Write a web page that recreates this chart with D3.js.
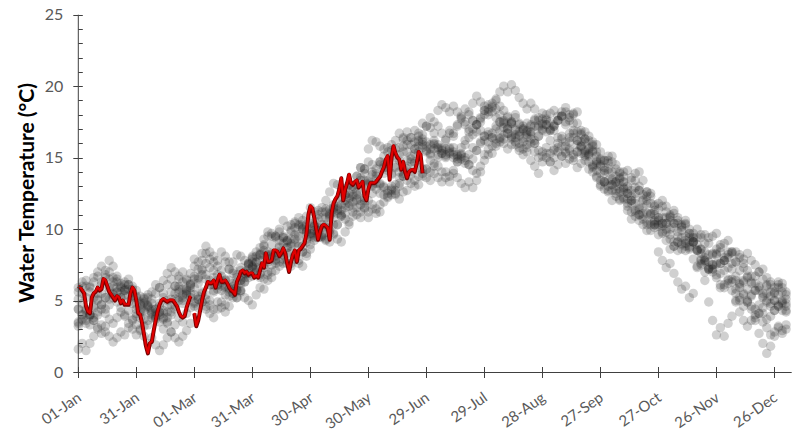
<!DOCTYPE html>
<html>
<head>
<meta charset="utf-8">
<script src="https://cdn.jsdelivr.net/npm/d3@7"></script>
<style>
	body { margin: 0; background: #fff; }
	svg { display: block; font-family: Lato, "Open Sans", sans-serif; }
</style>
</head>
<body>
<svg id="chart"></svg>
<script>
// x axis: day of year, tick every 30 days
var tickDays = [0, 30, 60, 90, 120, 150, 180, 210, 240, 270, 300, 330, 360]
var tickLabels = ["01-Jan", "31-Jan", "01-Mar", "31-Mar", "30-Apr", "30-May", "29-Jun",
	"29-Jul", "28-Aug", "27-Sep", "27-Oct", "26-Nov", "26-Dec"]
var yTicks = [0, 5, 10, 15, 20, 25]

// past years, one reading every second day (day 0, 2, 4 ... 366)
var year1 = [5.9,6.3,6.0,5.6,5.2, 5.5,6.1,6.6,7.0,6.6, 6.3,5.9,5.4,4.9,5.2, 4.7,4.3,4.8,5.2,5.6, 6.1,5.9,6.4,6.9,7.3, 7.0,6.7,7.0,6.5,6.1,
	4.9,5.3,4.9,4.6,5.0, 5.6,6.1,6.7,6.5,7.2, 7.7,8.2,8.1,7.8,7.6, 7.3,7.1,6.8,7.3,6.8, 6.6,7.1,7.7,7.6,8.3, 9.0,9.6,9.5,10.3,10.9,
	11.5,11.2,11.0,11.5,11.2, 11.0,10.8,11.3,10.9,10.7, 10.5,11.2,11.0,10.8,11.5, 13.1,13.8,13.7,14.5,15.1, 15.7,15.5,16.2,16.7,16.4, 16.2,15.9,15.6,16.2,15.7,
	15.4,15.2,15.6,15.2,15.7, 16.3,16.9,16.7,17.3,17.9, 18.4,18.2,18.8,19.3,18.9, 18.6,18.2,18.8,18.4,18.0, 17.6,17.2,17.5,16.9,16.5, 17.0,17.4,16.8,17.2,17.6,
	18.1,17.7,18.1,18.3,17.9, 18.2,18.5,18.0,17.4,16.8, 15.3,15.5,14.7,14.0,14.1, 13.4,12.8,13.0,13.1,13.3, 13.6,13.7,13.0,13.4,13.4, 12.7,12.0,12.0,11.1,10.3,
	9.6,9.8,9.2,8.6,8.8, 9.1,9.4,9.0,9.4,9.7, 10.0,9.4,9.6,9.0,8.2, 7.6,6.9,7.1,6.5,5.7, 5.0,5.2,4.6,4.9,5.4, 5.7,6.0,5.5,6.0,6.3, 5.9,6.3,5.9,5.4]
var year2 = [4.4,4.8,4.3,4.0,3.6, 3.1,3.3,2.8,2.5,2.1, 2.4,2.8,2.6,3.1,3.6, 4.1,3.8,4.3,4.7,4.4, 3.9,3.5,3.0,3.4,2.8, 2.4,2.1,2.5,2.9,3.4,
	4.6,5.1,5.6,5.4,6.1, 6.6,6.4,6.0,6.4,5.9, 5.5,5.2,5.7,5.2,5.0, 4.7,5.4,5.9,5.8,6.4, 7.0,7.6,7.4,8.2,8.7, 9.3,9.0,9.6,10.2,9.9,
	9.7,9.4,9.9,9.5,9.3, 9.1,9.6,9.3,9.1,9.8, 10.3,10.9,11.5,11.2,12.0, 13.4,14.0,13.9,14.7,14.5, 14.3,13.9,14.4,14.0,13.7, 13.4,13.8,13.4,13.1,13.7,
	14.2,14.8,14.4,15.0,15.6, 16.2,16.7,16.5,17.2,17.7, 17.3,17.0,17.6,17.3,16.9, 16.5,16.8,16.4,16.0,16.4, 16.0,15.6,15.9,16.4,16.8, 17.2,16.8,17.2,17.7,17.2,
	17.7,18.0,17.5,16.9,16.4, 15.8,15.3,15.5,14.8,14.3, 14.6,14.8,14.2,14.5,14.7, 14.9,14.3,14.6,14.7,14.2, 13.5,12.8,12.8,12.0,11.3, 10.6,10.7,9.9,9.9,10.1,
	10.2,10.4,9.8,10.0,10.4, 10.6,10.2,10.6,10.0,9.4, 8.9,8.3,8.4,7.7,7.0, 6.8,6.1,6.1,6.4,6.5, 4.9,4.2,3.6,3.2,3.6, 3.8,4.1,4.5,5.0,4.6, 5.0,5.4,4.8,4.3]
var year3 = [3.4,3.7,4.2,4.0,4.6, 5.1,5.5,5.2,5.9,6.3, 6.7,6.2,5.8,6.1,5.6, 5.2,4.8,5.1,4.5,4.1, 3.7,4.2,3.8,3.5,4.0, 4.4,5.0,4.8,5.4,5.9,
	7.4,7.2,7.8,8.3,7.9, 7.7,7.4,7.1,7.7,7.2, 6.9,6.6,7.1,6.6,7.2, 7.7,8.4,8.2,8.9,9.5, 9.5,9.4,10.0,10.6,10.2, 10.3,10.1,10.8,10.6,10.3,
	10.4,10.2,10.7,10.3,10.1, 10.8,11.4,11.1,11.7,12.4, 13.1,13.0,13.7,14.3,14.2, 15.6,16.2,16.1,15.8,15.6, 15.4,15.9,15.6,15.2,15.8, 15.4,15.1,15.6,16.1,16.6,
	17.2,17.8,17.5,18.3,18.7, 18.5,18.2,18.6,18.2,17.8, 17.5,18.0,17.6,17.3,17.7, 18.3,18.7,18.5,19.1,19.6, 20.0,19.6,20.1,19.7,19.2, 18.8,18.4,18.8,18.4,17.8,
	17.4,17.6,17.0,17.2,17.6, 17.9,18.2,17.6,18.0,18.2, 16.6,16.8,16.2,15.5,14.8, 14.4,14.8,15.1,15.1,14.5, 14.0,13.3,12.5,11.8,11.8, 11.0,10.3,10.5,10.5,10.6,
	10.8,10.4,10.8,11.0,11.3, 10.8,10.3,10.4,9.7,9.1, 8.5,8.6,7.8,7.2,7.2, 7.5,7.6,7.8,7.3,7.6, 7.7,8.0,7.6,7.1,6.7, 6.2,5.7,5.2,5.5,4.8, 4.3,4.6,5.0,4.6]
var year4 = [5.6,6.0,6.4,6.0,6.6, 7.0,7.4,7.1,7.8,7.4, 6.5,6.0,6.3,5.8,5.3, 3.9,4.2,3.7,3.3,3.8, 4.2,4.6,4.1,4.6,5.1, 5.5,6.0,5.8,6.4,6.9,
	6.5,6.2,6.8,6.5,6.1, 5.7,6.1,5.7,5.4,5.8, 5.5,5.2,5.7,6.3,6.9, 7.4,7.2,7.8,8.5,8.2, 8.9,9.5,9.2,9.0,8.7, 8.4,8.2,8.8,8.4,8.3,
	8.9,9.5,9.4,10.1,10.8, 11.4,11.2,11.9,12.5,12.4, 12.1,11.9,12.4,12.0,11.8, 10.8,11.4,11.1,11.7,12.4, 12.3,12.8,12.5,13.0,13.7, 14.2,14.0,14.6,14.3,13.9,
	13.6,13.4,13.9,13.6,13.3, 14.0,13.7,14.1,14.7,15.2, 15.0,14.5,14.1,13.9,14.4, 14.8,15.2,15.8,16.3,16.1, 16.6,17.0,16.5,16.1,15.7, 15.2,15.4,14.8,14.4,13.9,
	14.7,15.0,14.7,15.0,15.4, 16.5,16.1,16.4,16.7,16.2, 16.7,16.1,15.3,15.4,14.5, 13.9,13.3,13.4,13.5,13.7, 13.9,14.0,14.1,13.6,13.9, 14.0,13.4,12.6,12.5,11.6,
	10.8,10.2,10.4,9.6,9.1, 8.5,8.9,9.2,8.7,9.1, 9.4,9.6,9.0,9.4,9.5, 9.7,8.9,9.0,9.2,8.4, 7.7,7.1,7.3,6.6,6.2, 5.7,5.9,5.3,4.9,5.3, 5.5,5.9,6.2,5.6]
var year5 = [1.6,2.0,1.5,2.0,2.5, 3.0,2.7,3.2,3.7,3.4, 3.8,4.2,3.9,3.4,3.0, 2.6,3.0,2.5,2.0,2.4, 1.9,1.5,1.9,2.4,2.8, 3.3,3.8,3.5,4.1,4.5,
	5.4,5.1,5.5,5.1,4.7, 4.4,4.9,4.5,4.2,4.6, 5.2,5.7,5.6,6.3,6.9, 7.9,7.7,8.3,8.1,7.7, 8.0,7.8,8.4,8.2,7.8, 7.6,8.1,7.8,8.4,9.1,
	9.7,10.3,10.1,10.8,11.4, 11.1,11.7,11.6,11.3,11.1, 11.6,12.4,13.1,13.6,13.4, 13.3,13.1,12.8,12.5,13.0, 12.7,12.4,13.1,13.6,14.2, 14.8,14.7,15.3,15.8,16.3,
	16.1,15.9,16.2,15.9,15.5, 15.2,15.6,15.2,14.9,15.3, 15.9,16.4,17.0,16.8,17.5, 18.0,18.4,18.2,17.8,17.5, 17.1,16.7,16.3,16.6,16.0, 15.6,15.9,16.3,16.0,16.5,
	17.0,17.3,16.9,17.3,17.6, 17.9,17.3,16.7,16.9,16.2, 15.7,15.1,15.1,14.3,13.6, 13.0,13.3,12.7,12.0,12.3, 12.0,12.2,11.6,12.0,12.1, 11.5,10.9,11.1,11.1,10.3,
	8.4,7.8,7.3,7.6,6.9, 6.3,5.8,6.0,5.2,5.5, 7.3,7.6,7.0,7.3,7.5, 8.2,7.6,7.8,8.0,7.2, 5.5,5.0,5.4,4.9,4.4, 3.6,2.7,2.0,1.3,1.8, 2.5,3.1,2.7,3.0]
var year6 = [4.4,4.0,4.4,3.9,3.6, 4.0,4.4,4.1,4.7,5.2, 5.6,5.2,5.7,6.1,5.8, 5.3,4.9,5.2,4.6,4.2, 3.8,4.2,3.7,4.2,4.7, 5.1,5.6,5.2,5.6,6.2,
	6.7,6.5,7.1,6.8,6.4, 6.1,5.8,6.3,5.9,5.6, 6.2,5.9,6.4,7.0,7.6, 7.4,7.0,6.6,6.5,7.0, 7.5,8.1,8.7,9.4,9.2, 9.9,10.5,10.2,10.0,9.8,
	9.5,9.9,9.6,9.4,9.2, 9.7,10.3,10.3,11.0,11.7, 13.1,13.0,13.7,14.3,14.2, 14.7,14.5,14.2,14.7,14.3, 14.1,13.8,14.3,14.8,15.4, 15.9,16.4,16.9,16.7,17.4,
	17.2,17.1,16.7,17.2,16.7, 15.6,15.3,15.7,15.2,14.9, 14.6,15.2,15.7,15.5,16.1, 16.2,16.6,16.4,17.0,17.5, 17.5,17.0,17.4,17.8,17.3, 16.9,16.4,16.6,16.0,15.5,
	15.1,15.3,14.7,14.1,14.5, 15.1,15.4,15.6,15.0,15.4, 16.1,16.3,15.7,16.1,15.4, 14.8,14.1,14.2,13.4,12.7, 12.1,12.1,11.3,10.7,10.9, 11.0,11.1,10.3,10.3,10.5,
	10.6,10.8,10.4,10.8,11.1, 10.4,9.9,10.3,9.7,9.1, 8.5,8.6,7.8,7.2,7.2, 6.6,5.9,5.9,6.2,6.3, 6.4,5.9,6.3,6.7,6.3, 6.7,7.0,6.5,6.1,5.6, 5.0,4.6,4.9,4.2]
var year7 = [5.1,5.5,5.2,5.9,6.3, 6.7,6.3,6.8,6.5,6.0, 5.6,5.2,5.7,5.3,4.8, 4.4,4.7,4.2,4.6,5.1, 5.5,5.9,5.5,6.1,6.5, 6.0,6.5,6.3,5.8,5.5,
	5.9,6.6,7.2,7.6,7.3, 7.1,6.8,6.4,6.0,6.4, 6.0,5.7,6.4,6.9,7.5, 8.1,8.1,8.7,9.3,9.8, 9.7,9.5,9.8,9.5,9.1, 8.8,9.3,9.0,8.8,9.3,
	10.0,10.6,11.3,11.2,12.0, 12.6,13.2,13.1,12.9,12.7, 12.5,12.3,12.1,12.6,12.2, 12.0,12.5,13.2,13.1,13.9, 14.6,15.1,15.0,15.7,16.3, 16.8,16.4,16.1,16.5,16.1,
	15.8,15.6,16.0,15.6,15.3, 15.1,15.7,15.4,15.1,15.7, 16.2,16.8,16.6,17.3,17.8, 18.3,18.0,18.6,19.0,18.6, 18.3,17.9,17.5,18.0,17.4, 17.0,16.6,16.8,16.2,16.5,
	16.9,17.3,16.9,17.2,17.6, 17.9,17.5,17.8,18.1,17.4, 16.9,16.3,16.5,15.9,15.1, 14.5,13.9,14.0,13.1,12.5, 12.8,12.9,12.1,12.3,12.5, 12.7,12.1,12.3,12.3,11.7,
	11.8,12.0,11.6,10.9,10.4, 9.8,10.1,9.5,8.8,9.1, 8.5,7.9,8.0,8.2,8.3, 8.6,8.7,8.0,8.4,8.4, 6.7,6.2,6.4,5.8,5.3, 4.4,4.7,4.1,3.7,3.9, 4.3,4.7,4.3,4.8]
var year8 = [3.2,3.6,3.4,4.0,4.5, 5.0,4.7,5.2,5.7,5.4, 4.9,4.5,4.0,4.3,3.7, 3.3,2.9,3.2,3.6,4.0, 4.4,4.8,5.2,5.0,5.6, 6.0,5.8,5.4,5.7,5.2,
	4.8,4.5,4.9,4.4,4.1, 3.8,4.4,4.9,4.7,5.3, 5.8,6.3,6.2,6.9,7.5, 8.0,7.7,8.2,8.8,8.4, 8.2,7.9,8.3,7.9,7.6, 7.4,7.9,7.6,7.4,8.1,
	8.6,9.2,9.8,9.5,10.3, 10.9,11.5,11.4,12.2,12.0, 11.8,11.5,12.0,11.7,11.4, 11.2,11.7,11.4,11.2,11.9, 12.5,13.0,12.7,13.2,13.9, 14.4,14.9,14.7,15.4,15.9,
	15.5,15.3,15.9,15.7,15.3, 15.0,15.4,15.0,14.7,15.1, 14.8,14.5,14.9,15.5,16.0, 16.5,16.1,16.7,17.2,16.9, 17.4,17.8,17.4,17.0,16.6, 16.1,15.7,16.0,15.4,15.0,
	15.4,15.7,15.3,15.6,16.0, 16.3,15.8,16.1,16.4,15.9, 15.8,15.2,15.2,14.4,13.7, 13.1,13.3,12.6,12.7,13.0, 13.2,13.3,12.5,12.7,12.9, 13.0,12.4,12.6,11.8,11.0,
	10.3,9.7,10.0,9.3,8.8, 9.1,8.6,8.8,9.1,9.4, 8.6,7.8,6.4,4.9,3.6, 2.6,3.1,2.5,3.4,3.9, 5.8,6.1,5.5,5.0,4.6, 4.0,4.1,3.5,3.1,2.6, 2.8,3.2,2.9,3.3]
var year9 = [3.5,4.0,3.6,3.3,3.8, 4.2,4.7,4.4,5.1,5.5, 5.9,5.6,6.1,6.5,6.0, 5.7,5.3,4.9,5.4,4.8, 4.4,4.0,4.3,3.8,4.2, 4.6,5.2,5.0,5.5,6.1,
	7.9,7.7,8.3,8.8,8.4, 8.1,7.8,8.4,8.1,7.7, 7.1,6.8,7.3,6.8,6.6, 6.7,7.3,6.9,7.5,8.1, 8.3,8.2,8.8,9.4,9.2, 9.8,10.4,10.3,10.0,9.8,
	9.6,10.2,9.9,9.6,10.2, 9.9,9.7,10.3,10.9,11.5, 12.2,12.8,12.6,13.4,13.9, 13.2,13.0,13.5,13.2,12.9, 12.2,12.7,12.4,12.1,12.6, 12.7,13.2,13.0,13.7,14.2,
	14.2,14.0,14.6,14.4,14.0, 13.6,13.3,13.9,13.6,13.2, 12.9,13.3,12.9,13.4,14.0, 15.2,15.6,15.3,15.8,16.3, 16.3,16.7,16.4,15.9,15.5, 16.3,16.9,17.3,17.6,17.1,
	17.3,16.8,16.2,15.5,15.7, 15.1,14.6,14.9,15.2,15.4, 15.8,15.4,15.6,15.8,15.9, 15.4,14.8,14.8,14.0,13.3, 12.6,12.6,11.8,11.2,11.2, 11.4,11.5,11.7,11.0,11.3,
	11.4,11.6,11.2,10.6,10.1, 9.5,9.0,8.5,8.6,7.9, 7.4,7.5,7.7,7.2,7.5, 8.3,8.4,7.8,8.2,8.3, 8.4,8.2,7.9,8.3,7.8, 7.5,7.0,7.2,6.6,6.1, 5.6,6.1,5.6,5.1]
var pastYears = [year1, year2, year3, year4, year5, year6, year7, year8, year9]
var pastStep = 2

// current year, daily from 01-Jan (null = missing day)
var currentYear = [6.0,5.9,5.7,5.5,4.6,4.2,4.1,5.2,5.5,5.6, 5.9,5.7,5.8,6.5,6.4,6.0,5.6,5.4,5.2,5.0,
	5.3,5.2,4.8,5.0,4.7,4.7,4.7,5.5,5.9,5.7, 5.0,4.1,4.0,3.4,2.6,1.8,1.3,2.0,2.1,2.9,
	3.6,4.2,4.7,5.0,5.1,5.0,4.9,5.0,5.0,5.0, 4.8,4.6,4.2,3.9,3.8,3.9,4.5,4.9,5.3,null,
	4.1,3.2,3.6,4.3,5.0,5.6,5.9,6.3,6.2,6.2, 6.4,5.9,6.4,6.8,6.3,6.3,6.4,6.2,5.9,5.7,
	5.6,5.4,6.3,6.6,7.0,7.1,6.9,7.0,6.8,6.9, 6.9,6.6,6.7,6.6,7.1,7.6,7.3,8.3,7.7,7.7,
	7.8,8.5,8.5,8.4,8.1,8.3,8.65,8.3,7.6,7.0, 7.7,8.2,8.5,7.7,8.5,8.6,8.8,9.0,9.7,11.0,
	11.6,11.45,10.8,10.05,9.25,9.8,10.2,10.3,10.2,10.05, 9.25,11.1,11.8,12.1,12.3,12.8,13.55,12.0,12.75,13.2,
	13.8,13.2,13.1,13.3,13.4,12.9,13.1,13.3,12.3,12.0, 12.8,13.2,13.2,13.2,13.3,13.5,13.65,14.0,14.3,14.85,
	15.1,13.45,15.0,15.8,15.3,15.0,14.85,14.15,14.7,14.0, 13.55,14.0,14.1,14.15,14.0,14.6,15.4,15.2,13.9]

function main() {
	var width = 798, height = 432
	var svg = d3.select("#chart")
		.attr("width", width)
		.attr("height", height)

	var xScale = d3.scaleLinear()
		.domain([0, 368.9])
		.range([78.3, 791.7])

	var yScale = d3.scaleLinear()
		.domain([0, 25])
		.range([372, 14.7])

	// flatten past years into points
	var points = []
	pastYears.forEach(function (yr) {
		yr.forEach(function (v, i) {
			points.push({ day: i * pastStep, t: v })
		})
	})

	svg.append("g")
		.selectAll("circle")
		.data(points)
		.enter().append("circle")
		.attr("cx", function (d) { return xScale(d.day); })
		.attr("cy", function (d) { return yScale(d.t); })
		.attr("r", 4.7)
		.attr("fill", "#222")
		.attr("fill-opacity", 0.21)

	// current year line
	var line = d3.line()
		.defined(function (d) { return d != null; })
		.x(function (d, i) { return xScale(i); })
		.y(function (d) { return yScale(d); })

	svg.append("path")
		.datum(currentYear)
		.attr("d", line)
		.attr("fill", "none")
		.attr("stroke", "#7a0000")
		.attr("stroke-width", 4)
		.attr("stroke-linejoin", "round")

	svg.append("path")
		.datum(currentYear)
		.attr("d", line)
		.attr("transform", "translate(0,-0.6)")
		.attr("fill", "none")
		.attr("stroke", "#e00000")
		.attr("stroke-width", 2.2)
		.attr("stroke-linejoin", "round")

	// y axis with minor ticks
	var yAxis = svg.append("g")
	yAxis.append("line")
		.attr("x1", xScale(0)).attr("x2", xScale(0))
		.attr("y1", yScale(25)).attr("y2", yScale(0))
		.attr("stroke", "#404040")
	yAxis.selectAll(".minor")
		.data(d3.range(0, 26))
		.enter().append("line")
		.attr("x1", xScale(0)).attr("x2", xScale(0) + 4.5)
		.attr("y1", function (d) { return Math.round(yScale(d)) + 0.5; })
		.attr("y2", function (d) { return Math.round(yScale(d)) + 0.5; })
		.attr("stroke", "#404040")
	yAxis.selectAll(".major")
		.data(yTicks)
		.enter().append("line")
		.attr("x1", xScale(0) - 5).attr("x2", xScale(0))
		.attr("y1", function (d) { return Math.round(yScale(d)) + 0.5; })
		.attr("y2", function (d) { return Math.round(yScale(d)) + 0.5; })
		.attr("stroke", "#404040")
	yAxis.selectAll("text")
		.data(yTicks)
		.enter().append("text")
		.attr("x", xScale(0) - 15)
		.attr("y", function (d) { return yScale(d); })
		.attr("dy", "0.35em")
		.attr("text-anchor", "end")
		.attr("fill", "#595959")
		.style("font-size", "16px")
		.text(function (d) { return d; })

	// x axis
	var xAxis = svg.append("g")
	xAxis.append("line")
		.attr("x1", xScale(0)).attr("x2", xScale(368.9))
		.attr("y1", yScale(0) + 0.5).attr("y2", yScale(0) + 0.5)
		.attr("stroke", "#404040")
	xAxis.selectAll(".tick")
		.data(tickDays)
		.enter().append("line")
		.attr("x1", function (d) { return Math.round(xScale(d)) + 0.5; })
		.attr("x2", function (d) { return Math.round(xScale(d)) + 0.5; })
		.attr("y1", yScale(0) - 5).attr("y2", yScale(0) + 6)
		.attr("stroke", "#404040")
	xAxis.selectAll("text")
		.data(tickDays)
		.enter().append("text")
		.attr("transform", function (d) {
			return "translate(" + (xScale(d) + 4) + "," + (yScale(0) + 28) + ") rotate(-35)";
		})
		.attr("text-anchor", "end")
		.attr("fill", "#595959")
		.style("font-size", "15px")
		.text(function (d, i) { return tickLabels[i]; })

	// axis title
	svg.append("text")
		.attr("transform", "translate(34,193) rotate(-90)")
		.attr("text-anchor", "middle")
		.attr("fill", "#000")
		.style("font-size", "21px")
		.style("font-weight", "bold")
		.text("Water Temperature (°C)")
}
main()
</script>
</body>
</html>
